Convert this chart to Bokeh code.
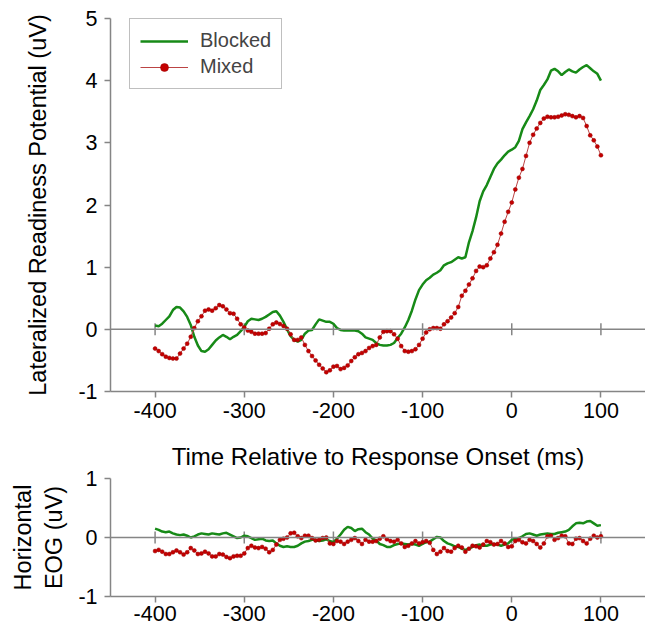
import numpy as np
from bokeh.plotting import figure
from bokeh.layouts import column
from bokeh.models import Legend, LegendItem, Span, FixedTicker, Range1d, Title
from bokeh.embed import file_html
from bokeh.resources import INLINE

# ---------------- data ----------------
time_ms = list(range(-400, 101, 4))   # sample times, 4 ms apart

x_ticks = [-400, -300, -200, -100, 0, 100]
x_tick_labels = ["-400", "-300", "-200", "-100", "0", "100"]
lrp_ticks = [-1, 0, 1, 2, 3, 4, 5]
lrp_tick_labels = ["-1", "0", "1", "2", "3", "4", "5"]
eog_ticks = [-1, 0, 1]
eog_tick_labels = ["-1", "0", "1"]

lrp_blocked = [
    0.06, 0.05, 0.09, 0.15, 0.21, 0.31, 0.36, 0.35, 0.29, 0.20, 0.07, -0.12, -0.26,
    -0.35, -0.36, -0.32, -0.25, -0.18, -0.13, -0.09, -0.12, -0.16, -0.12, -0.09, -0.03,
    0.04, 0.13, 0.17, 0.16, 0.15, 0.17, 0.20, 0.24, 0.28, 0.29, 0.22, 0.12, 0.00,
    -0.11, -0.17, -0.20, -0.17, -0.07, -0.02, -0.01, 0.08, 0.16, 0.14, 0.12, 0.12,
    0.09, 0.02, -0.01, -0.02, -0.02, -0.02, -0.02, -0.03, -0.07, -0.13, -0.15, -0.17,
    -0.22, -0.25, -0.26, -0.26, -0.25, -0.22, -0.14, -0.07, 0.03, 0.15, 0.30, 0.48, 0.63,
    0.72, 0.79, 0.83, 0.88, 0.91, 0.95, 1.03, 1.06, 1.08, 1.12, 1.16, 1.14, 1.16,
    1.40, 1.58, 1.80, 2.06, 2.22, 2.32, 2.45, 2.58, 2.67, 2.73, 2.80, 2.86,
    2.89, 2.93, 3.03, 3.22, 3.33, 3.43, 3.54, 3.68, 3.85, 3.93, 4.02, 4.16, 4.19,
    4.15, 4.09, 4.14, 4.18, 4.15, 4.13, 4.18, 4.22, 4.25, 4.20, 4.15, 4.11, 4.00,
]
lrp_mixed = [
    -0.31, -0.35, -0.40, -0.44, -0.46, -0.47, -0.47, -0.39, -0.31, -0.23, -0.12, 0.02, 0.13,
    0.21, 0.30, 0.32, 0.30, 0.34, 0.39, 0.37, 0.32, 0.26, 0.25, 0.17, 0.08,
    0.03, -0.02, -0.04, -0.07, -0.07, -0.07, -0.06, 0.01, 0.08, 0.11, 0.085, 0.055, 0.01,
    -0.08, -0.17, -0.17, -0.13, -0.25, -0.35, -0.43, -0.50, -0.57, -0.63, -0.69, -0.66,
    -0.60, -0.59, -0.64, -0.62, -0.58, -0.51, -0.45, -0.40, -0.38, -0.35, -0.30, -0.27,
    -0.25, -0.13, -0.04, -0.03, -0.03, -0.08, -0.15, -0.27, -0.35, -0.36, -0.35, -0.32, -0.25,
    -0.15, -0.05, 0.00, 0.02, 0.02, 0.01, 0.08, 0.13, 0.19, 0.26, 0.36, 0.54, 0.62,
    0.72, 0.82, 0.94, 1.01, 1.00, 1.03, 1.14, 1.24, 1.36, 1.54, 1.73, 1.89,
    2.04, 2.25, 2.44, 2.58, 2.79, 3.00, 3.13, 3.23, 3.32, 3.39, 3.42, 3.41, 3.41,
    3.42, 3.44, 3.46, 3.45, 3.43, 3.41, 3.43, 3.40, 3.27, 3.12, 3.04, 2.94, 2.80,
]
eog_blocked = [
    0.15, 0.13, 0.10, 0.09, 0.10, 0.07, 0.05, 0.04, 0.05, 0.03, 0.00, 0.02, 0.05,
    0.07, 0.06, 0.05, 0.07, 0.06, 0.05, 0.07, 0.08, 0.05, 0.02, -0.01, 0.00,
    0.03, 0.02, -0.01, -0.04, -0.03, -0.02, -0.05, -0.06, -0.05, -0.10, -0.14, -0.16, -0.15,
    -0.16, -0.16, -0.14, -0.10, -0.07, -0.06, -0.04, -0.04, -0.06, -0.05, -0.03, -0.06,
    -0.08, -0.02, 0.05, 0.13, 0.18, 0.16, 0.11, 0.14, 0.15, 0.09, 0.05, -0.02,
    -0.05, -0.11, -0.13, -0.16, -0.16, -0.13, -0.11, -0.10, -0.11, -0.12, -0.11, -0.12, -0.14,
    -0.11, -0.08, -0.07, -0.03, 0.01, 0.00, -0.06, -0.10, -0.12, -0.15, -0.16, -0.19, -0.21,
    -0.19, -0.16, -0.13, -0.12, -0.14, -0.14, -0.12, -0.11, -0.12, -0.14, -0.12, -0.10,
    -0.04, -0.02, -0.01, 0.02, 0.06, 0.07, 0.05, 0.03, 0.05, 0.06, 0.07, 0.06, 0.06,
    0.08, 0.09, 0.10, 0.13, 0.19, 0.24, 0.25, 0.24, 0.27, 0.28, 0.24, 0.20, 0.21,
]
eog_mixed = [
    -0.23, -0.21, -0.24, -0.28, -0.28, -0.25, -0.22, -0.25, -0.29, -0.25, -0.18, -0.22, -0.28,
    -0.27, -0.24, -0.27, -0.32, -0.32, -0.28, -0.29, -0.33, -0.35, -0.32, -0.31, -0.31,
    -0.27, -0.18, -0.14, -0.17, -0.18, -0.16, -0.19, -0.25, -0.21, -0.12, -0.04, -0.02, 0.00,
    0.07, 0.08, 0.02, -0.01, 0.03, 0.03, -0.01, -0.05, -0.04, -0.01, 0.00, -0.10,
    -0.11, -0.06, -0.07, -0.11, -0.07, -0.04, -0.01, -0.06, -0.11, -0.04, -0.07, -0.07,
    -0.06, -0.02, 0.02, -0.03, -0.06, -0.07, -0.04, -0.10, -0.16, -0.14, -0.10, -0.06, -0.10,
    -0.08, -0.06, -0.09, -0.21, -0.28, -0.24, -0.18, -0.23, -0.24, -0.18, -0.14, -0.17, -0.24,
    -0.19, -0.14, -0.15, -0.17, -0.12, -0.06, -0.08, -0.12, -0.11, -0.06, -0.10, -0.16,
    -0.15, -0.06, -0.04, -0.08, -0.10, -0.04, -0.06, -0.11, -0.17, -0.10, 0.02, 0.03, -0.04,
    -0.01, 0.03, 0.02, -0.10, -0.11, -0.02, -0.01, -0.06, -0.10, -0.02, 0.03, 0.00, 0.02,
]

# ---------------- styling ----------------
FONT = "Liberation Sans"
AXIS_GRAY = "#858585"
GREEN = "#178a17"
RED_LINE = "#bb4444"
RED_DOT = "#c40000"


def make_panel(frame_h, top, bottom, y_lo, y_hi, yticks, ytick_labels, ylabel, lbl_standoff,
               x_label_standoff):
    p = figure(frame_width=535, frame_height=frame_h,
               x_range=Range1d(-450, 150), y_range=Range1d(y_lo, y_hi),
               min_border_left=110, min_border_right=0,
               min_border_top=top, min_border_bottom=bottom,
               output_backend="svg", toolbar_location=None)
    p.xaxis.ticker = FixedTicker(ticks=x_ticks)
    p.yaxis.ticker = FixedTicker(ticks=yticks)
    p.xaxis.major_label_overrides = dict(zip(x_ticks, x_tick_labels))
    p.yaxis.major_label_overrides = dict(zip(yticks, ytick_labels))
    for ax in (p.xaxis[0], p.yaxis[0]):
        ax.axis_line_color = AXIS_GRAY
        ax.axis_line_width = 1.5
        ax.major_tick_line_color = AXIS_GRAY
        ax.major_tick_line_width = 1.5
        ax.major_tick_out = 6
        ax.major_tick_in = 0
        ax.minor_tick_line_color = None
        ax.major_label_text_font = FONT
        ax.major_label_text_font_size = "21.5px"
        ax.major_label_text_color = "black"
        ax.axis_label_text_font = FONT
        ax.axis_label_text_font_size = "23.5px"
        ax.axis_label_text_font_style = "normal"
        ax.axis_label_text_color = "black"
    p.xaxis.major_label_standoff = x_label_standoff
    p.yaxis.major_label_standoff = 7
    p.yaxis.axis_label = ylabel
    p.yaxis.axis_label_standoff = lbl_standoff
    p.grid.visible = False
    p.outline_line_color = None
    p.background_fill_color = "white"
    # zero reference line with crossing tick marks
    p.add_layout(Span(location=0, dimension="width", line_color=AXIS_GRAY, line_width=1.5))
    p.scatter(x=x_ticks, y=[0] * len(x_ticks), marker="dash", angle=np.pi / 2, size=12,
              line_color=AXIS_GRAY, line_width=1.5)
    return p


p1 = make_panel(373, 18, 36, -1, 5, lrp_ticks, lrp_tick_labels,
                "Lateralized Readiness Potential (uV)", 24, 5)
g1 = p1.line(time_ms, lrp_blocked, line_color=GREEN, line_width=2.5)
m1 = p1.line(time_ms, lrp_mixed, line_color=RED_LINE, line_width=1)
d1 = p1.scatter(time_ms, lrp_mixed, marker="circle", size=4, fill_color=RED_DOT,
                line_color="#9a0000", line_width=0.5)

legend = Legend(items=[LegendItem(label="Blocked", renderers=[g1]),
                       LegendItem(label="Mixed", renderers=[m1, d1])],
                location=(19, 302), margin=0, padding=10, spacing=3,
                glyph_width=48, glyph_height=20, label_standoff=12,
                label_text_font=FONT, label_text_font_size="20px",
                border_line_color="#808080", border_line_width=1.2,
                background_fill_color="white", background_fill_alpha=1.0)
p1.add_layout(legend)

p2 = make_panel(118, 51, 30, -1, 1, eog_ticks, eog_tick_labels,
                "Horizontal\nEOG (uV)", 8, 3)
p2.title = Title(text="Time Relative to Response Onset (ms)", align="center",
                 text_font=FONT, text_font_size="24px", text_font_style="normal",
                 text_color="black", standoff=17)
p2.line(time_ms, eog_blocked, line_color=GREEN, line_width=2.5)
p2.line(time_ms, eog_mixed, line_color=RED_LINE, line_width=1)
p2.scatter(time_ms, eog_mixed, marker="circle", size=4, fill_color=RED_DOT,
           line_color="#9a0000", line_width=0.5)

layout = column(p1, p2)
open("out.html", "w").write(file_html(layout, INLINE))
